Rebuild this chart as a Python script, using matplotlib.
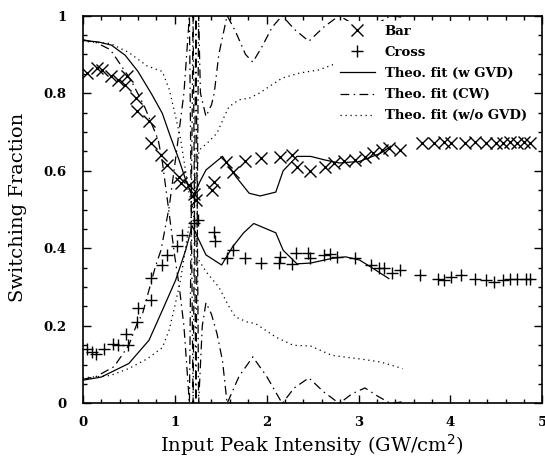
import matplotlib
matplotlib.use("Agg")
import matplotlib.pyplot as plt
import numpy as np
from matplotlib.ticker import MultipleLocator

bar_x = [0.04, 0.15, 0.21, 0.31, 0.38, 0.46, 0.48, 0.575, 0.59, 0.72, 0.74, 0.85, 0.92,
         1.047, 1.065, 1.15, 1.21, 1.23, 1.41, 1.43, 1.56, 1.63, 1.77, 1.94, 2.15, 2.28,
         2.33, 2.47, 2.64, 2.73, 2.84, 2.96, 3.07, 3.16, 3.26, 3.33, 3.45, 3.69, 3.82,
         3.93, 4.01, 4.16, 4.27, 4.39, 4.5, 4.57, 4.65, 4.72, 4.8, 4.87]
bar_y = [0.853, 0.866, 0.859, 0.845, 0.835, 0.82, 0.843, 0.787, 0.753, 0.727, 0.671, 0.64, 0.615,
         0.585, 0.568, 0.563, 0.54, 0.525, 0.55, 0.57, 0.623, 0.598, 0.626, 0.632, 0.636, 0.64,
         0.61, 0.60, 0.61, 0.62, 0.624, 0.628, 0.636, 0.645, 0.654, 0.658, 0.654, 0.671, 0.671,
         0.675, 0.671, 0.671, 0.675, 0.671, 0.671, 0.671, 0.675, 0.671, 0.675, 0.672]

cross_x = [0.04, 0.1, 0.148, 0.23, 0.325, 0.38, 0.468, 0.494, 0.59, 0.6, 0.74, 0.74, 0.865,
           0.92, 1.03, 1.08, 1.21, 1.25, 1.43, 1.44, 1.57, 1.63, 1.77, 1.94, 2.13, 2.15, 2.28,
           2.32, 2.45, 2.47, 2.62, 2.69, 2.77, 2.96, 3.14, 3.22, 3.28, 3.37, 3.45, 3.67, 3.86,
           3.93, 4.01, 4.12, 4.27, 4.39, 4.48, 4.57, 4.65, 4.72, 4.82, 4.87]
cross_y = [0.141, 0.133, 0.128, 0.141, 0.154, 0.15, 0.178, 0.15, 0.21, 0.245, 0.267, 0.323, 0.357,
           0.383, 0.405, 0.434, 0.465, 0.473, 0.443, 0.42, 0.374, 0.396, 0.374, 0.363, 0.363, 0.378, 0.36,
           0.387, 0.387, 0.375, 0.382, 0.385, 0.378, 0.374, 0.357, 0.35, 0.35, 0.337, 0.344, 0.331, 0.322,
           0.318, 0.326, 0.331, 0.322, 0.318, 0.314, 0.318, 0.322, 0.322, 0.322, 0.322]

# theoretical fit with GVD
gvd_up_x = [0.0, 0.17, 0.31, 0.46, 0.6, 0.75, 0.865, 0.95, 1.047, 1.12, 1.2, 1.27, 1.34, 1.52,
            1.665, 1.81, 1.93, 2.1, 2.18, 2.33, 2.48, 2.63, 2.79, 3.01, 3.24, 3.35]
gvd_up_y = [0.936, 0.932, 0.924, 0.898, 0.856, 0.797, 0.748, 0.69, 0.628, 0.576, 0.53, 0.57, 0.602, 0.637,
            0.585, 0.542, 0.535, 0.545, 0.6, 0.637, 0.637, 0.628, 0.62, 0.624, 0.645, 0.663]
gvd_lo_x = [0.0, 0.2, 0.5, 0.72, 0.865, 1.01, 1.12, 1.19, 1.34, 1.51, 1.63, 1.75, 1.86, 2.1,
            2.18, 2.33, 2.48, 2.71, 2.86, 3.01, 3.16, 3.33]
gvd_lo_y = [0.06, 0.068, 0.103, 0.163, 0.24, 0.318, 0.396, 0.458, 0.383, 0.357, 0.404, 0.44, 0.464, 0.44,
            0.395, 0.36, 0.362, 0.374, 0.378, 0.37, 0.348, 0.322]

# theoretical fit, CW
cw_up_x = [0.0, 0.15, 0.3, 0.52, 0.67, 0.82, 0.865, 0.93, 1.0, 1.05, 1.1, 1.16, 1.2, 1.23, 1.26,
           1.28, 1.34, 1.4, 1.43, 1.48, 1.57, 1.66, 1.77, 1.85, 1.95, 2.06, 2.17, 2.3, 2.46,
           2.62, 2.79, 3.07, 3.35, 3.5]
cw_up_y = [0.938, 0.93, 0.912, 0.835, 0.766, 0.68, 0.623, 0.507, 0.38, 0.3, 0.2, 0.0, 1.0, 0.0, 1.0,
           0.8, 0.74, 0.77, 0.8, 0.9, 1.0, 0.96, 0.9, 0.88, 0.92, 0.97, 1.0, 0.965, 0.934,
           0.97, 1.0, 0.96, 1.0, 0.995]
cw_lo_x = [0.0, 0.15, 0.34, 0.5, 0.59, 0.65, 0.79, 0.85, 0.94, 1.02, 1.1, 1.16, 1.2, 1.23, 1.26,
           1.3, 1.34, 1.4, 1.46, 1.52, 1.57, 1.7, 1.85, 2.0, 2.17, 2.3, 2.46, 2.62, 2.79,
           2.93, 3.07, 3.2, 3.35, 3.5]
cw_lo_y = [0.062, 0.07, 0.095, 0.15, 0.206, 0.232, 0.353, 0.395, 0.507, 0.65, 0.8, 1.0, 0.0, 1.0, 0.0,
           0.2, 0.26, 0.23, 0.18, 0.11, 0.0, 0.07, 0.12, 0.07, 0.0, 0.04, 0.066, 0.03, 0.0,
           0.025, 0.04, 0.02, 0.0, 0.005]

# theoretical fit without GVD
nogvd_up_x = [0.0, 0.3, 0.5, 0.7, 0.865, 0.94, 1.0, 1.065, 1.15, 1.2, 1.23, 1.265, 1.37, 1.46,
              1.54, 1.59, 1.7, 1.81, 1.92, 2.06, 2.17, 2.36, 2.57, 2.76, 3.0, 3.24, 3.48]
nogvd_up_y = [0.934, 0.928, 0.905, 0.87, 0.856, 0.81, 0.75, 0.68, 0.55, 0.5, 0.58, 0.653, 0.675, 0.697,
              0.74, 0.765, 0.783, 0.787, 0.80, 0.822, 0.839, 0.852, 0.86, 0.877, 0.885, 0.893, 0.91]
nogvd_lo_x = [0.0, 0.3, 0.5, 0.7, 0.865, 0.94, 1.0, 1.065, 1.15, 1.2, 1.23, 1.25, 1.34, 1.48,
              1.59, 1.66, 1.79, 1.88, 2.1, 2.29, 2.48, 2.71, 3.01, 3.24, 3.48]
nogvd_lo_y = [0.066, 0.072, 0.09, 0.115, 0.144, 0.19, 0.25, 0.32, 0.45, 0.5, 0.42, 0.374, 0.34, 0.3,
              0.25, 0.223, 0.21, 0.206, 0.171, 0.15, 0.148, 0.124, 0.115, 0.107, 0.09]

plt.rcParams["font.family"] = "DejaVu Serif"

fig = plt.figure(figsize=(5.45, 4.59), dpi=100)
ax = fig.add_axes([0.152, 0.121, 0.843, 0.845])

dashdot = (0, (7, 3.5, 1.2, 3.5))
dots = (0, (1, 3))
lw = 0.9

ax.plot(bar_x, bar_y, ls="none", marker="x", ms=8, mew=1.0, color="black", label="Bar")
ax.plot(cross_x, cross_y, ls="none", marker="+", ms=9, mew=1.0, color="black", label="Cross")
ax.plot(gvd_up_x, gvd_up_y, color="black", lw=lw, label="Theo. fit (w GVD)")
ax.plot(gvd_lo_x, gvd_lo_y, color="black", lw=lw)
ax.plot(cw_up_x, cw_up_y, color="black", lw=lw, ls=dashdot, label="Theo. fit (CW)")
ax.plot(cw_lo_x, cw_lo_y, color="black", lw=lw, ls=dashdot)
ax.plot(nogvd_up_x, nogvd_up_y, color="black", lw=lw, ls=dots, label="Theo. fit (w/o GVD)")
ax.plot(nogvd_lo_x, nogvd_lo_y, color="black", lw=lw, ls=dots)

ax.set_xlim(0, 5)
ax.set_ylim(0, 1)
ax.xaxis.set_major_locator(MultipleLocator(1))
ax.xaxis.set_minor_locator(MultipleLocator(0.2))
ax.yaxis.set_major_locator(MultipleLocator(0.2))
ax.yaxis.set_minor_locator(MultipleLocator(0.05))
ax.xaxis.set_major_formatter(plt.FuncFormatter(lambda v, p: "%g" % v))
ax.yaxis.set_major_formatter(plt.FuncFormatter(lambda v, p: "%g" % v))
ax.tick_params(which="both", direction="in", top=True, right=True, width=1.0)
ax.tick_params(which="major", length=6)
ax.tick_params(which="minor", length=3)
ax.tick_params(axis="x", which="major", pad=9)
ax.tick_params(axis="y", which="major", pad=11.5)
for lab in ax.get_xticklabels() + ax.get_yticklabels():
    lab.set_fontweight("bold")
    lab.set_fontsize(9.5)
for s in ax.spines.values():
    s.set_linewidth(1.2)

ax.set_xlabel("Input Peak Intensity (GW/cm$^2$)", fontsize=14)
ax.set_ylabel("Switching Fraction", fontsize=14)
ax.xaxis.label.set_va("baseline")
ax.xaxis.set_label_coords(0.498, -0.124)
ax.yaxis.set_label_coords(-0.122, 0.505)

leg = ax.legend(loc="upper right", bbox_to_anchor=(0.989, 1.004), frameon=True,
                prop={"weight": "bold", "size": 9.5}, handlelength=2.7, handletextpad=0.7,
                labelspacing=0.62, borderpad=0.3)
leg.get_frame().set_edgecolor("none")
leg.get_frame().set_facecolor("white")
leg.get_frame().set_alpha(1)

fig.savefig("out.png", dpi=100)
